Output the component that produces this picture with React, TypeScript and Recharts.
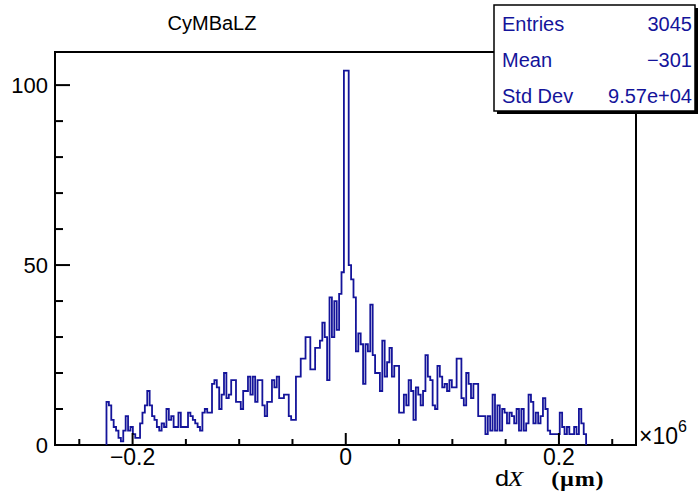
import { LineChart, Line, XAxis, YAxis, ReferenceArea } from "recharts"

// 200 bins of dX (in units of 10^6 µm), lower edge and width
const BIN_LOW = -0.2245
const BIN_WIDTH = 0.00225
const COUNTS = [
  12, 11, 7, 5, 4, 2, 1, 4, 8, 4, 5, 3, 2, 2, 6, 9, 11, 15, 11, 8, 7, 5, 4, 6, 5, 10, 7, 8, 5, 5, 9,
  5, 5, 5, 9, 8, 7, 6, 5, 4, 9, 10, 9, 9, 17, 18, 16, 10, 14, 20, 13, 14, 18, 18, 12, 12, 10, 15, 15, 19, 14, 19, 12,
  18, 18, 11, 8, 12, 12, 18, 16, 19, 13, 13, 14, 14, 8, 7, 7, 19, 19, 24, 24, 30, 30, 21, 21, 27, 27,
  29, 34, 30, 18, 41, 30, 40, 32, 42, 48,
  104, 104, 50, 46, 41, 26, 31, 28, 17, 28, 26,
  39, 25, 20, 20, 15, 29, 19, 23, 27, 19, 22, 22, 9, 9, 14, 11, 18, 15, 7, 16, 14, 11, 15, 25, 19, 18, 11, 10, 22, 19, 16, 17,
  15, 18, 16, 16, 24, 24, 13, 11, 20, 17, 13, 17, 17, 8, 8, 8, 3, 8, 4, 14, 4, 11, 4, 10, 9, 6, 9, 8,
  6, 10, 4, 10, 4, 6, 14, 12, 6, 9, 6, 8, 13, 10, 4, 3, 3, 3, 3, 9, 5, 3, 5, 3, 3, 5, 3, 10, 6, 3,
]

const X_RANGE = [-0.2728, 0.2723]
const Y_RANGE = [0, 109.2]
const X_TICKS = [-0.25, -0.2, -0.15, -0.1, -0.05, 0, 0.05, 0.1, 0.15, 0.2, 0.25]
const X_TICK_LABELS: Record<string, string> = { "-0.20": "\u22120.2", "0.00": "0", "0.20": "0.2" }
const Y_TICKS = [0, 10, 20, 30, 40, 50, 60, 70, 80, 90, 100]
const Y_TICK_LABELS = [0, 50, 100]

const STAT_NAMES = ["Entries", "Mean", "Std Dev"]
const STAT_VALUES = ["3045", "\u2212301", "9.57e+04"]

const SANS = "Liberation Sans, Arial, Helvetica, sans-serif"
const SERIF = "Liberation Serif, Times New Roman, serif"
const HIST_BLUE = "#14149a"

// outline: rise from zero at the low edge, one step per bin, fall back at the high edge
const outline = [
  { x: BIN_LOW, n: 0 },
  ...COUNTS.map((n, i) => ({ x: BIN_LOW + i * BIN_WIDTH, n })),
  { x: BIN_LOW + COUNTS.length * BIN_WIDTH, n: 0 },
]

// ticks point into the frame, like ROOT does
function XTick({ x, y, payload }: any) {
  const label = X_TICK_LABELS[Number(payload.value).toFixed(2)]
  return (
    <g>
      <line x1={x} y1={y} x2={x} y2={y - (label ? 12 : 6)} stroke="#000" strokeWidth={2} />
      {label && (
        <text x={x} y={y + 20} textAnchor="middle" fontSize={23} fontFamily={SANS} fill="#000">
          {label}
        </text>
      )}
    </g>
  )
}

function YTick({ x, y, payload }: any) {
  const major = Y_TICK_LABELS.includes(payload.value)
  return (
    <g>
      <line x1={x} y1={y} x2={x + (major ? 15 : 8)} y2={y} stroke="#000" strokeWidth={2} />
      {major && (
        <text x={x - 7} y={y + 8} textAnchor="end" fontSize={22} fontFamily={SANS} fill="#000">
          {payload.value}
        </text>
      )}
    </g>
  )
}

export default function App() {
  return (
    <div style={{ position: "absolute", left: 0, top: 0, width: 700, height: 497, background: "#fff" }}>
      <LineChart width={700} height={497} data={outline} margin={{ top: 52, right: 64, bottom: 22, left: 15 }}>
        <XAxis
          type="number"
          dataKey="x"
          domain={X_RANGE}
          ticks={X_TICKS}
          interval={0}
          tick={<XTick />}
          tickLine={false}
          axisLine={false}
          tickSize={0}
          tickMargin={0}
          height={30}
          allowDataOverflow
        />
        <YAxis
          type="number"
          domain={Y_RANGE}
          ticks={Y_TICKS}
          interval={0}
          tick={<YTick />}
          tickLine={false}
          axisLine={false}
          tickSize={0}
          tickMargin={0}
          width={40}
          allowDataOverflow
        />
        <ReferenceArea
          x1={X_RANGE[0]}
          x2={X_RANGE[1]}
          y1={Y_RANGE[0]}
          y2={Y_RANGE[1]}
          fill="#fff"
          fillOpacity={0}
          stroke="#000"
          strokeWidth={2}
        />
        <Line
          type="stepAfter"
          dataKey="n"
          stroke={HIST_BLUE}
          strokeWidth={1.8}
          dot={false}
          isAnimationActive={false}
        />
      </LineChart>

      <svg width={700} height={497} style={{ position: "absolute", left: 0, top: 0, pointerEvents: "none" }}>
        <text x={212} y={30} textAnchor="middle" fontSize={20} fontFamily={SANS} fill="#000">
          CyMBaLZ
        </text>

        {/* statistics box with its drop shadow */}
        <rect x={497} y={8} width={201} height={106} fill="#000" />
        <rect x={494} y={5} width={201} height={106} fill="#fff" stroke="#000" strokeWidth={1.5} />
        {STAT_NAMES.map((name, i) => (
          <g key={name}>
            <text x={502} y={31 + i * 36} fontSize={20} fontFamily={SANS} fill={HIST_BLUE}>
              {name}
            </text>
            <text x={692} y={31 + i * 36} textAnchor="end" fontSize={20} fontFamily={SANS} fill={HIST_BLUE}>
              {STAT_VALUES[i]}
            </text>
          </g>
        ))}

        {/* axis title, drawn a little wide as ROOT renders it */}
        <g transform="translate(495 486) scale(1.15 1)">
          <text x={0} y={0} fontSize={22} fontFamily={SANS} fill="#000">
            d
          </text>
          <text x={11} y={0} fontSize={22} fontFamily={SERIF} fontStyle="italic" fill="#000">
            X
          </text>
          <text x={49} y={0} fontSize={21} fontFamily={SERIF} fontWeight="bold" letterSpacing={0.6} fill="#000">
            (µm)
          </text>
        </g>

        <text x={639} y={444} fontSize={23} fontFamily={SANS} fill="#000">
          ×10
          <tspan dy={-12} fontSize={16}>6</tspan>
        </text>
      </svg>
    </div>
  )
}
